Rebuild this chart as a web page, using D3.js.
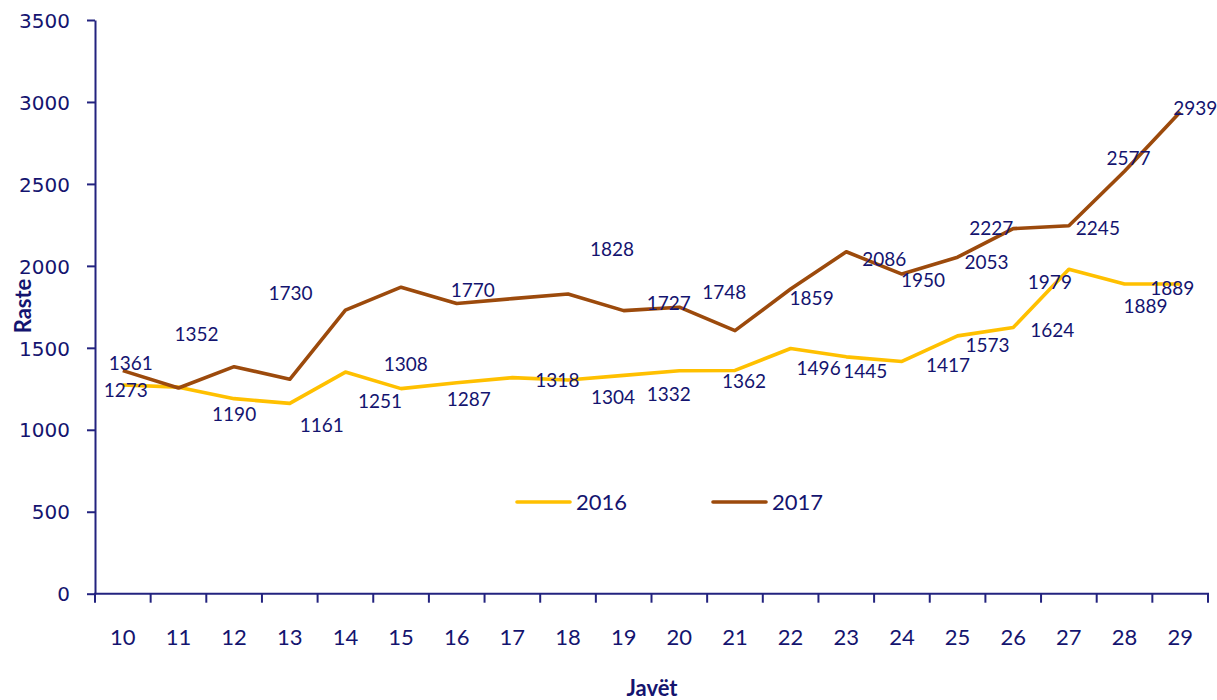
<!DOCTYPE html>
<html>
<head>
<meta charset="utf-8">
<script src="https://cdn.jsdelivr.net/npm/d3@7"></script>
<style>
  html, body { margin: 0; padding: 0; background: #fff; }
  svg { display: block; }
</style>
</head>
<body>
<svg id="chart" width="1217" height="700"></svg>
<script>
// ---- data ----
const weeks = [10,11,12,13,14,15,16,17,18,19,20,21,22,23,24,25,26,27,28,29];
const seriesNames = ["2016", "2017"];
const values2016 = [1273,1260,1190,1161,1352,1251,1287,1318,1304,1332,1360,1362,1496,1445,1417,1573,1624,1979,1889,1889];
const values2017 = [1361,1255,1385,1308,1730,1870,1770,1800,1828,1727,1748,1605,1859,2086,1950,2053,2227,2245,2577,2939];
const yTicks = [0,500,1000,1500,2000,2500,3000,3500];
const yTitle = "Raste";
const xTitle = "Javët";
// indices of points that carry a data label
const labelIdx2016 = [0,2,3,4,5,6,7,8,9,11,12,13,14,15,16,17,18,19];
const labelIdx2017 = [0,3,4,6,8,9,10,12,13,14,15,16,17,18,19];

// ---- label placement (pixel offsets from the point, as dragged in the original) ----
const labelOffsets2016 = [[3,5],[0,16],[32,22],[-149,-38],[-21,13],[12,16],[45,2],[45,17],[45,19],[9,11],[28,20],[19,14],[46,4],[30,9],[39,3],[-19,13],[21,22],[-8,4]];
const labelOffsets2017 = [[8,-7],[116,-15],[-55,-17],[16,-13],[44,-45],[45,-7],[45,-15],[21,9],[38,7],[21,6],[29,5],[-22,-1],[29,2],[4,-13],[15,-4]];

// ---- styles ----
const navy = "#14146f";
const axisColor = "#23237f";
const colors = {"2016": "#FFC000", "2017": "#9C4A0C"};

const svg = d3.select("#chart");
const mLeft = 95, mRight = 1208, mTop = 20, mBottom = 593.7;

const x = d3.scaleBand().domain(weeks).range([mLeft, mRight]).paddingInner(0).paddingOuter(0);
const y = d3.scaleLinear().domain([0, 3500]).range([mBottom, mTop]);
const cx = w => x(w) + x.bandwidth() / 2;

// Y axis
const yAxis = svg.append("g")
  .attr("transform", `translate(${mLeft},0)`)
  .call(d3.axisLeft(y).tickValues(yTicks).tickSizeInner(8).tickSizeOuter(0).tickPadding(17).tickFormat(d3.format("d")));
yAxis.select(".domain").attr("stroke", axisColor).attr("stroke-width", 2);
yAxis.selectAll(".tick line").attr("stroke", axisColor).attr("stroke-width", 2);
yAxis.selectAll(".tick text")
  .attr("fill", navy)
  .attr("dy", "0.36em")
  .style("font-family", "'DejaVu Sans', Verdana, sans-serif")
  .style("font-size", "20px");

// X axis (labels centred in bands, ticks at band boundaries)
const xAxis = svg.append("g")
  .attr("transform", `translate(0,${mBottom})`)
  .call(d3.axisBottom(x).tickSize(0).tickPadding(35.5));
xAxis.select(".domain").remove();
xAxis.selectAll(".tick text")
  .attr("fill", navy)
  .style("font-family", "Lato, 'Open Sans', sans-serif")
  .style("font-size", "22px");
svg.append("line")
  .attr("x1", mLeft - 1).attr("x2", mRight + 1)
  .attr("y1", mBottom).attr("y2", mBottom)
  .attr("stroke", axisColor).attr("stroke-width", 2);
const boundaries = weeks.map(w => x(w)).concat([mRight]);
svg.append("g").selectAll("line")
  .data(boundaries)
  .join("line")
  .attr("x1", d => d).attr("x2", d => d)
  .attr("y1", mBottom).attr("y2", mBottom + 9)
  .attr("stroke", axisColor).attr("stroke-width", 2);

// Lines
const line = d3.line().x((d, i) => cx(weeks[i])).y(d => y(d));
const seriesData = [
  {name: "2016", values: values2016, idx: labelIdx2016, offs: labelOffsets2016},
  {name: "2017", values: values2017, idx: labelIdx2017, offs: labelOffsets2017}
];
seriesData.forEach(s => {
  svg.append("path")
    .datum(s.values)
    .attr("fill", "none")
    .attr("stroke", colors[s.name])
    .attr("stroke-width", 3.6)
    .attr("stroke-linejoin", "round")
    .attr("d", line);
});

// Data labels
seriesData.forEach(s => {
  svg.append("g").selectAll("text")
    .data(s.idx.map((i, k) => ({i, v: s.values[i], o: s.offs[k]})))
    .join("text")
    .attr("x", d => cx(weeks[d.i]) + d.o[0])
    .attr("y", d => y(d.v) + d.o[1])
    .attr("dy", "0.36em")
    .attr("text-anchor", "middle")
    .attr("fill", navy)
    .style("font-family", "Lato, 'Open Sans', sans-serif")
    .style("font-size", "19px")
    .text(d => d.v);
});

// Legend
const legend = svg.append("g");
const legendX = [517, 713];
seriesNames.forEach((n, k) => {
  legend.append("line")
    .attr("x1", legendX[k]).attr("x2", legendX[k] + 53)
    .attr("y1", 502).attr("y2", 502)
    .attr("stroke", colors[n]).attr("stroke-width", 3.6)
    .attr("stroke-linecap", "round");
  legend.append("text")
    .attr("x", legendX[k] + 59).attr("y", 510)
    .attr("fill", navy)
    .style("font-family", "Lato, 'Open Sans', sans-serif")
    .style("font-size", "22px")
    .text(n);
});

// Axis titles
svg.append("text")
  .attr("transform", "translate(31,306) rotate(-90)")
  .attr("text-anchor", "middle")
  .attr("fill", navy)
  .style("font-family", "Lato, 'Open Sans', sans-serif")
  .style("font-weight", "bold")
  .style("font-size", "22px")
  .text(yTitle);
svg.append("text")
  .attr("x", 652).attr("y", 696)
  .attr("text-anchor", "middle")
  .attr("fill", navy)
  .style("font-family", "Lato, 'Open Sans', sans-serif")
  .style("font-weight", "bold")
  .style("font-size", "22px")
  .text(xTitle);
</script>
</body>
</html>
